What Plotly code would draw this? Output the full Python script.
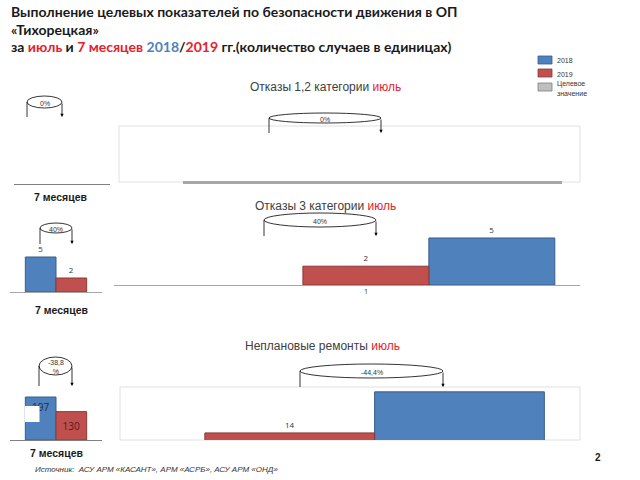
import plotly.graph_objects as go

# ---- data ----
years = ["2018", "2019"]
blue, red, grey = "#4F81BD", "#C0504D", "#BFBFBF"
blue_edge, red_edge = "#385D8A", "#8C3836"

cat12_7m = [0, 0]        # 2018, 2019
cat12_july = [0, 0]
cat3_7m = [5, 2]
cat3_july = [5, 2]
repairs_7m = [197, 130]  # "1" of 197 hidden behind a white patch on the slide
repairs_july = [25, 14]  # 2018 july value has no label, estimated from -44,4%

pct_labels = ["0%", "0%", "40%", "40%", "-38,8<br>%", "-44,4%"]

W, H = 640, 480


def fx(p):
    return p / W


def fy(p):
    return 1 - p / H


def note(text, x, y, font, xanchor="center", **kw):
    # paper annotation placed by pixel position (anchors set explicitly)
    return dict(xref="paper", yref="paper", x=fx(x), y=fy(y), text=text, showarrow=False,
                xanchor=xanchor, yanchor="middle", font=font, **kw)


fig = go.Figure()

# axes: name -> (x px domain, y px domain (top, bottom), x range, y range)
axes = {
    "1": ((14, 110), (140, 184), [0, 3], [0, 1]),
    "2": ((183, 562), (130, 181), [0, 2.7], [0, 1]),
    "3": ((10, 102), (250, 292), [0, 3], [0, 6]),
    "4": ((114, 580), (230, 285), [-1, 2.7], [0, 5.85]),
    "5": ((10, 102), (392, 440), [0, 3], [0, 220]),
    "6": ((120, 580), (387, 440), [0, 2.71], [12.1, 26.3]),
}
lay = {}
for k, (xd, yd, xr, yr) in axes.items():
    xn = "xaxis" if k == "1" else "xaxis" + k
    yn = "yaxis" if k == "1" else "yaxis" + k
    lay[xn] = dict(domain=[fx(xd[0]), fx(xd[1])], range=xr, anchor="y" if k == "1" else "y" + k,
                   showgrid=False, zeroline=False, showticklabels=False, ticks="",
                   showline=False, fixedrange=True)
    lay[yn] = dict(domain=[fy(yd[1]), fy(yd[0])], range=yr, anchor="x" if k == "1" else "x" + k,
                   showgrid=False, zeroline=False, showticklabels=False, ticks="",
                   showline=False, fixedrange=True)

# baselines
lay["xaxis"].update(showline=True, linecolor="#7F7F7F", linewidth=1)
lay["xaxis2"].update(showline=True, linecolor="#A6A6A6", linewidth=3)
lay["xaxis3"].update(showline=True, linecolor="#A6A6A6", linewidth=1)
lay["xaxis4"].update(showline=True, linecolor="#A6A6A6", linewidth=1,
                     showticklabels=True, tickvals=[1], ticktext=["1"],
                     tickfont=dict(size=7, color="#333333"))
lay["xaxis5"].update(showline=True, linecolor="#7F7F7F", linewidth=1)


def add_pair(k, values, slots, pos, anchors, show_text=(True, True), tsize=8):
    xa = "x" if k == "1" else "x" + k
    ya = "y" if k == "1" else "y" + k
    cols = [(blue, blue_edge, "#1C2E4A"), (red, red_edge, "#4A1C1C")]
    for i in range(2):
        fig.add_trace(go.Bar(
            x=[slots[i]], y=[values[i]], width=1, xaxis=xa, yaxis=ya,
            marker=dict(color=cols[i][0],
                        line=dict(color=cols[i][1], width=1 if values[i] else 0)),
            text=[str(values[i])] if show_text[i] and values[i] else None,
            textposition=pos[i], insidetextanchor=anchors[i],
            textfont=dict(size=tsize, color=cols[i][2] if pos[i] == "inside" else "#333333"),
            cliponaxis=False, showlegend=False, name=years[i]))


add_pair("1", cat12_7m, [1, 2], ["outside", "outside"], ["end", "end"], (False, False))
add_pair("2", cat12_july, [2, 1], ["outside", "outside"], ["end", "end"], (False, False))
add_pair("3", cat3_7m, [1, 2], ["outside", "outside"], ["end", "end"])
add_pair("4", cat3_july, [2, 1], ["outside", "outside"], ["end", "end"])
add_pair("5", repairs_7m, [1, 2], ["inside", "inside"], ["end", "middle"], tsize=10)
add_pair("6", repairs_july, [2, 1], ["none", "outside"], ["end", "end"], (False, True))

shapes = []
annotations = []

# frames around main charts
for x0, y0, x1, y1 in [(119, 126, 580, 182), (120, 387, 580, 440)]:
    shapes.append(dict(type="rect", xref="paper", yref="paper", x0=fx(x0), x1=fx(x1),
                       y0=fy(y1), y1=fy(y0), line=dict(color="#E0E0E0", width=1), layer="below"))

# white patch over the left part of the 2018 bar (bottom-left chart)
shapes.append(dict(type="rect", xref="paper", yref="paper", x0=fx(25), x1=fx(39.5),
                   y0=fy(422), y1=fy(406), fillcolor="white", line=dict(width=0), layer="above"))

# change loops: (x left, x right, y centre, half height, y bottom)
loops = [(27, 62, 102, 6, 117), (269, 381, 118, 5, 133), (40, 72, 228, 5, 244),
         (264, 376, 220, 7, 236), (39, 72, 366, 9, 386), (300, 443, 371, 7, 387)]
pct_font = dict(size=7, color="#333333", family="Liberation Sans")
for (xl, xr, yc, hh, yb), lbl in zip(loops, pct_labels):
    shapes.append(dict(type="circle", xref="paper", yref="paper", x0=fx(xl), x1=fx(xr),
                       y0=fy(yc + hh), y1=fy(yc - hh), line=dict(color="#000000", width=0.8)))
    shapes.append(dict(type="line", xref="paper", yref="paper", x0=fx(xl), x1=fx(xl),
                       y0=fy(yc), y1=fy(yb), line=dict(color="#000000", width=0.8)))
    annotations.append(dict(xref="paper", yref="paper", x=fx(xr), y=fy(yb),
                            ax=0, ay=-(yb - yc), showarrow=True, arrowhead=2,
                            arrowsize=0.8, arrowwidth=0.8, arrowcolor="#000000", text=""))
    annotations.append(note(lbl, (xl + xr) / 2, yc + 1, pct_font))

# slide title
title_font = dict(family="Lato", size=14, color="#1A1A1A")
R, B = "#E8202A", "#4F81BD"
title_lines = [
    "<b>Выполнение целевых показателей по безопасности движения в ОП</b>",
    "<b>«Тихорецкая»</b>",
    "<b>за <span style='color:%s'>июль</span> и <span style='color:%s'>7 месяцев</span> "
    "<span style='color:%s'>2018</span>/<span style='color:%s'>2019</span> "
    "гг.(количество случаев в единицах)</b>" % (R, R, B, R),
]
for line, y in zip(title_lines, [11, 29, 47]):
    annotations.append(note(line, 9, y, title_font, xanchor="left"))

# chart titles
sub_font = dict(family="Liberation Sans", size=12, color="#404040")
for txt, x, y in [("Отказы 1,2 категории ", 325, 87), ("Отказы 3 категории ", 325, 206),
                  ("Неплановые ремонты ", 322, 346)]:
    annotations.append(note(txt + "<span style='color:#E8202A'>июль</span>", x, y, sub_font))

month_font = dict(family="Liberation Sans", size=10.5, color="#1A1A1A")
for x, y in [(60, 197), (61, 310), (56, 453)]:
    annotations.append(note("<b>7 месяцев</b>", x, y, month_font))

# legend (drawn by hand like on the slide)
for (c, e), y in zip([(blue, blue_edge), (red, red_edge), (grey, "#7F7F7F")], [56, 69, 83]):
    shapes.append(dict(type="rect", xref="paper", yref="paper", x0=fx(538), x1=fx(552),
                       y0=fy(y + 8), y1=fy(y), fillcolor=c, line=dict(color=e, width=0.8)))
leg_font = dict(family="Liberation Sans", size=7, color="#333333")
for txt, y in [("2018", 60), ("2019", 74), ("Целевое", 84), ("значение", 94)]:
    annotations.append(note(txt, 555, y, leg_font, xanchor="left"))

annotations.append(note("<i>Источник:  АСУ АРМ «КАСАНТ», АРМ «АСРБ», АСУ АРМ «ОНД»</i>", 33, 469,
                        dict(family="Liberation Sans", size=8, color="#333333"), xanchor="left"))
annotations.append(note("<b>2</b>", 598, 457, dict(family="Liberation Sans", size=10, color="#1A1A1A")))

fig.update_layout(
    width=W, height=H, margin=dict(l=0, r=0, t=0, b=0),
    paper_bgcolor="white", plot_bgcolor="rgba(0,0,0,0)",
    barmode="overlay", showlegend=False,
    shapes=shapes, annotations=annotations, **lay)

# the figure is exactly the window size, so drop the default page margin
fig.write_html("out.html", config={"displayModeBar": False},
               post_script="document.body.style.margin='0';document.body.style.overflow='hidden';")
